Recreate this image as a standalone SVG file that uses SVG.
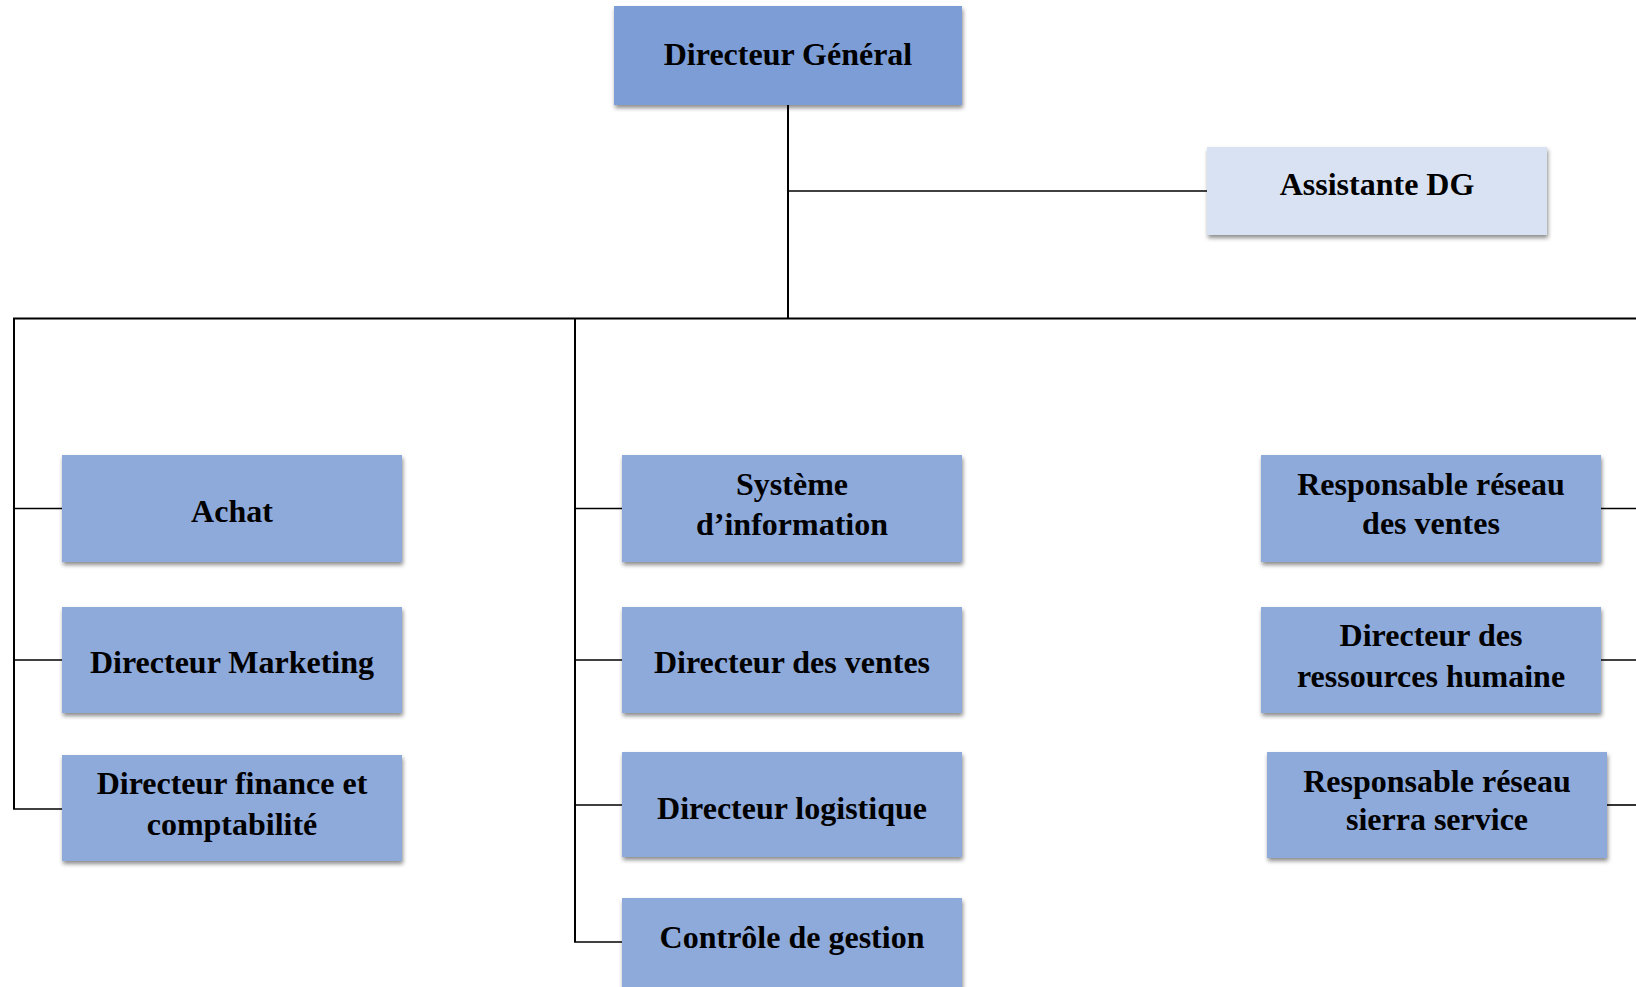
<svg xmlns="http://www.w3.org/2000/svg" width="1636" height="987" viewBox="0 0 1636 987">
  <defs>
    <filter id="shadow" x="-5%" y="-10%" width="115%" height="130%">
      <feDropShadow dx="1" dy="3" stdDeviation="2" flood-color="#000" flood-opacity="0.45"/>
    </filter>
  </defs>
  <style>
    .box { fill: #8eaadb; filter: url(#shadow); }
    .top { fill: #7b9dd6; filter: url(#shadow); }
    .light { fill: #d9e2f3; filter: url(#shadow); }
    .lbl { font-family: "Liberation Serif", "Times New Roman", serif; font-weight: bold; font-size: 32px; fill: #000; text-anchor: middle; }
    .trunk { stroke: #000; stroke-width: 2; fill: none; }
    .branch { stroke: #000; stroke-width: 1.6; fill: none; }
  </style>

  <rect width="1636" height="987" fill="#fff"/>

  <g id="connectors">
    <line class="trunk" x1="788" y1="105" x2="788" y2="318.5"/>
    <line class="branch" x1="788" y1="191" x2="1207" y2="191"/>
    <line class="trunk" x1="13" y1="318.5" x2="1636" y2="318.5"/>
    <!-- left column -->
    <line class="trunk" x1="14" y1="318" x2="14" y2="809"/>
    <line class="branch" x1="14" y1="508.5" x2="62" y2="508.5"/>
    <line class="branch" x1="14" y1="660" x2="62" y2="660"/>
    <line class="branch" x1="13" y1="809" x2="62" y2="809"/>
    <!-- middle column -->
    <line class="trunk" x1="575" y1="318" x2="575" y2="942"/>
    <line class="branch" x1="575" y1="508.5" x2="622" y2="508.5"/>
    <line class="branch" x1="575" y1="660" x2="622" y2="660"/>
    <line class="branch" x1="575" y1="805" x2="622" y2="805"/>
    <line class="branch" x1="574" y1="942" x2="622" y2="942"/>
    <!-- right column -->
    <line class="branch" x1="1601" y1="508.5" x2="1636" y2="508.5"/>
    <line class="branch" x1="1601" y1="660" x2="1636" y2="660"/>
    <line class="branch" x1="1607" y1="805" x2="1636" y2="805"/>
  </g>

  <g id="directeur-general">
    <rect class="top" x="614" y="6" width="348" height="99"/>
    <text class="lbl" x="788" y="65">Directeur Général</text>
  </g>

  <g id="assistante-dg">
    <rect class="light" x="1207" y="147" width="340" height="88"/>
    <text class="lbl" x="1377" y="195">Assistante DG</text>
  </g>

  <g id="achat">
    <rect class="box" x="62" y="455" width="340" height="107"/>
    <text class="lbl" x="232" y="522">Achat</text>
  </g>

  <g id="directeur-marketing">
    <rect class="box" x="62" y="607" width="340" height="106"/>
    <text class="lbl" x="232" y="673">Directeur Marketing</text>
  </g>

  <g id="directeur-finance">
    <rect class="box" x="62" y="755" width="340" height="106"/>
    <text class="lbl" x="232" y="794">Directeur finance et</text>
    <text class="lbl" x="232" y="835">comptabilité</text>
  </g>

  <g id="systeme-information">
    <rect class="box" x="622" y="455" width="340" height="107"/>
    <text class="lbl" x="792" y="495">Système</text>
    <text class="lbl" x="792" y="535">d’information</text>
  </g>

  <g id="directeur-ventes">
    <rect class="box" x="622" y="607" width="340" height="106"/>
    <text class="lbl" x="792" y="673">Directeur des ventes</text>
  </g>

  <g id="directeur-logistique">
    <rect class="box" x="622" y="752" width="340" height="105"/>
    <text class="lbl" x="792" y="819">Directeur logistique</text>
  </g>

  <g id="controle-gestion">
    <rect class="box" x="622" y="898" width="340" height="110"/>
    <text class="lbl" x="792" y="948">Contrôle de gestion</text>
  </g>

  <g id="responsable-reseau-ventes">
    <rect class="box" x="1261" y="455" width="340" height="107"/>
    <text class="lbl" x="1431" y="495">Responsable réseau</text>
    <text class="lbl" x="1431" y="534">des ventes</text>
  </g>

  <g id="directeur-rh">
    <rect class="box" x="1261" y="607" width="340" height="106"/>
    <text class="lbl" x="1431" y="646">Directeur des</text>
    <text class="lbl" x="1431" y="687">ressources humaine</text>
  </g>

  <g id="responsable-sierra-service">
    <rect class="box" x="1267" y="752" width="340" height="106"/>
    <text class="lbl" x="1437" y="792">Responsable réseau</text>
    <text class="lbl" x="1437" y="830">sierra service</text>
  </g>
</svg>
